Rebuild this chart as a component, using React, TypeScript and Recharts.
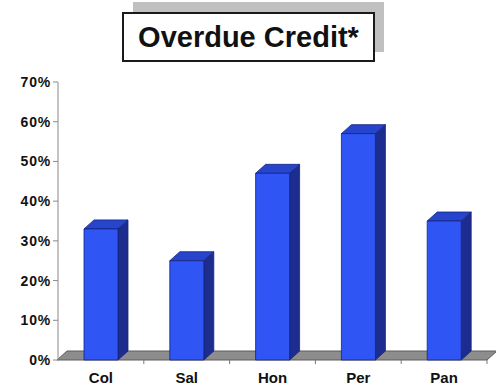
import React from "react";
import { BarChart, Bar, XAxis, YAxis, Customized } from "recharts";

const categories = ["Col", "Sal", "Hon", "Per", "Pan"];
const overduePct = [33, 25, 47, 57, 35];
const yTicks = [0, 10, 20, 30, 40, 50, 60, 70];

const data = categories.map((name, i) => ({ name, value: overduePct[i] }));

// plot box inside the svg (matches margin + axis sizes below)
const PLOT_LEFT = 58;
const PLOT_RIGHT = 487;
const PLOT_BOTTOM = 360;
const DEPTH_X = 10;
const DEPTH_Y = -9;

const FONT = "'Liberation Sans', Arial, Helvetica, sans-serif";

function Bar3D(props: any) {
  const { x, y, width, height } = props;
  if (height == null || height <= 0) return null;
  const dx = DEPTH_X;
  const dy = DEPTH_Y;
  const top = `${x},${y} ${x + dx},${y + dy} ${x + width + dx},${y + dy} ${x + width},${y}`;
  const side = `${x + width},${y} ${x + width + dx},${y + dy} ${x + width + dx},${y + height + dy} ${x + width},${y + height}`;
  return (
    <g stroke="#16237c" strokeWidth={0.8} strokeLinejoin="round">
      <polygon points={side} fill="#1c2d8f" />
      <polygon points={top} fill="#2645cc" />
      <rect x={x} y={y} width={width} height={height} fill="#2f56f4" />
    </g>
  );
}

function Floor() {
  const band = (PLOT_RIGHT - PLOT_LEFT) / categories.length;
  const pts = `${PLOT_LEFT - 1},${PLOT_BOTTOM} ${PLOT_RIGHT},${PLOT_BOTTOM} ${PLOT_RIGHT + DEPTH_X},${PLOT_BOTTOM + DEPTH_Y} ${PLOT_LEFT - 1 + DEPTH_X},${PLOT_BOTTOM + DEPTH_Y}`;
  return (
    <g>
      <polygon points={pts} fill="#8d8d8d" stroke="#5c5c5c" strokeWidth={1} />
      {categories.map((_, i) => {
        const tx = PLOT_LEFT + (i + 1) * band;
        return <line key={i} x1={tx} x2={tx} y1={PLOT_BOTTOM} y2={PLOT_BOTTOM + 4} stroke="#777" />;
      })}
    </g>
  );
}

export default function App() {
  return (
    <div style={{ position: "absolute", left: 0, top: 0, width: 496, height: 387, background: "#fff", fontFamily: FONT }}>
      <div style={{ position: "absolute", left: 133, top: 2, width: 251, height: 50, background: "#c0c0c0" }} />
      <div
        style={{
          position: "absolute",
          left: 122,
          top: 12,
          width: 253,
          height: 50,
          boxSizing: "border-box",
          border: "2px solid #1a1a1a",
          background: "#fff",
          display: "flex",
          alignItems: "center",
          justifyContent: "center",
          fontSize: 29,
          fontWeight: "bold",
          color: "#111",
        }}
      >
        Overdue Credit*
      </div>
      <div style={{ position: "absolute", left: 0, top: 0 }}>
        <BarChart width={496} height={387} data={data} margin={{ top: 82, right: 9, bottom: 0, left: 0 }}>
          <Customized component={Floor} />
          <YAxis
            width={58}
            domain={[0, 70]}
            ticks={yTicks}
            tickFormatter={(v) => `${v}%`}
            axisLine={{ stroke: "#8a8a8a" }}
            tickLine={{ stroke: "#8a8a8a" }}
            tickSize={5}
            tickMargin={2}
            tick={{ fontSize: 14, fontWeight: "bold", fill: "#111", fontFamily: FONT, letterSpacing: 0.8 }}
          />
          <XAxis
            dataKey="name"
            height={27}
            axisLine={false}
            tickLine={false}
            tickSize={0}
            tickMargin={12}
            tick={{ fontSize: 15, fontWeight: "bold", fill: "#111", fontFamily: FONT }}
          />
          <Bar dataKey="value" barSize={34} shape={Bar3D} isAnimationActive={false} />
        </BarChart>
      </div>
    </div>
  );
}
